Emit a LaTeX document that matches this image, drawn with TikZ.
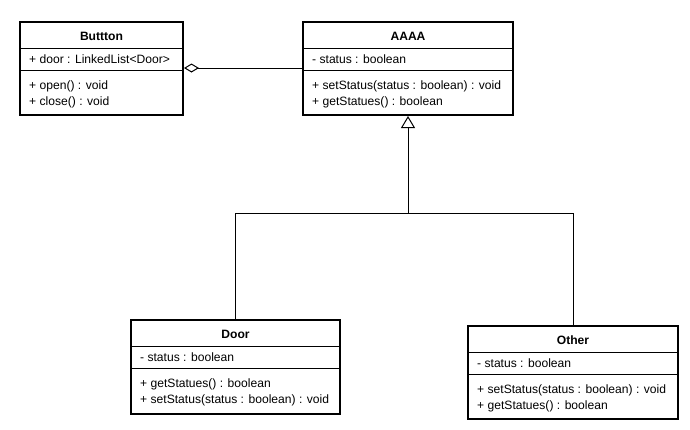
\documentclass[tikz,border=0pt]{standalone}
\usepackage{fontspec}
\setmainfont{Liberation Sans}
\usetikzlibrary{arrows.meta,calc}

\tikzset{
  classbox/.style={draw=black, line width=2pt, rectangle, inner sep=0pt, anchor=north west, fill=white},
  divider/.style={draw=black, line width=1pt},
  member/.style={anchor=base west, inner sep=0pt, font=\fontsize{12.1}{14}\selectfont},
  classtitle/.style={anchor=base, inner sep=0pt, font=\fontsize{12.1}{14}\selectfont\bfseries},
  link/.style={draw=black, line width=1pt},
  aggregation/.style={link, -{Diamond[open, length=15pt, width=9pt, line width=1pt]}},
  inheritance/.style={link, -{Triangle[open, length=12pt, width=14pt, line width=1pt]}}
}

% #1 name, #2 north-west corner, #3 width, #4 height, #5 title, #6 attribute, #7 #8 operations
\newcommand\umlclass[8]{%
  \node[classbox, minimum width=#3pt, minimum height=#4pt] (#1) at #2 {};
  \draw[divider] ($(#1.north west)+(0,27)$) -- ($(#1.north east)+(0,27)$);
  \draw[divider] ($(#1.north west)+(0,49)$) -- ($(#1.north east)+(0,49)$);
  \node[classtitle] (#1-title) at ($(#1.north)+(0,19)$) {#5};
  \node[member] (#1-attr) at ($(#1.north west)+(10,42)$) {#6};
  \node[member] (#1-op1) at ($(#1.north west)+(10,68)$) {#7};
  \node[member] (#1-op2) at ($(#1.north west)+(10,84)$) {#8};
}

\begin{document}
\begin{tikzpicture}[x=1pt, y=-1pt]
  \fill[white] (0,0) rectangle (690,429);
  \useasboundingbox (0,0) rectangle (690,429);

  \umlclass{buttton}{(19,21)}{163}{93}{Buttton}{+ door : LinkedList<Door>}{+ open() : void}{+ close() : void}
  \umlclass{aaaa}{(302,21)}{210}{93}{AAAA}{- status : boolean}{+ setStatus(status : boolean) : void}{+ getStatues() : boolean}
  \umlclass{door}{(130,319)}{209}{94}{Door}{- status : boolean}{+ getStatues() : boolean}{+ setStatus(status : boolean) : void}
  \umlclass{other}{(467,325)}{210}{93}{Other}{- status : boolean}{+ setStatus(status : boolean) : void}{+ getStatues() : boolean}

  % aggregation: Buttton holds AAAA
  \coordinate (aggrow) at (0,68);
  \draw[aggregation] (aaaa.west |- aggrow) -- (buttton.east |- aggrow);

  % generalisation: Door and Other specialise AAAA
  \coordinate (junction) at (407,213);
  \draw[link] (door.north) -- (door.north |- junction) -- (other.north |- junction) -- (other.north);
  \draw[inheritance] (aaaa.south |- junction) -- (aaaa.south);
\end{tikzpicture}
\end{document}
